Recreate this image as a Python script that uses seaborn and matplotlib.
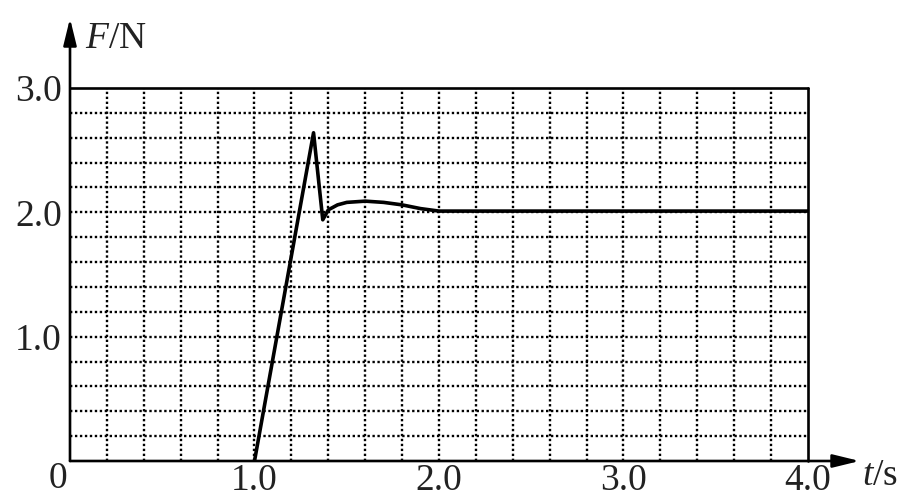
import matplotlib
matplotlib.use("Agg")
import matplotlib.pyplot as plt
import seaborn as sns
import numpy as np
import pandas as pd

# data
t_values = [1.0, 1.32, 1.37, 1.40, 1.45, 1.5, 1.6, 1.7, 1.8, 1.9, 2.0, 4.0]
F_values = [0.0, 2.64, 1.94, 2.02, 2.06, 2.08, 2.09, 2.08, 2.06, 2.03, 2.01, 2.01]
x_tick_values = [1.0, 2.0, 3.0, 4.0]
x_tick_labels = ["1.0", "2.0", "3.0", "4.0"]
y_tick_values = [1.0, 2.0, 3.0]
y_tick_labels = ["1.0", "2.0", "3.0"]

sns.set_theme(style="white")
plt.rcParams['font.family'] = ['Liberation Serif', 'DejaVu Serif']
plt.rcParams['mathtext.fontset'] = 'custom'
plt.rcParams['mathtext.rm'] = 'Liberation Serif'
plt.rcParams['mathtext.it'] = 'Liberation Serif:italic'

fig = plt.figure(figsize=(9.04, 4.97), dpi=100)
ax = fig.add_axes([70 / 904, 36 / 497, 738 / 904, 373 / 497])
ax.set_facecolor("white")

df = pd.DataFrame({"t": t_values, "F": F_values})

# dotted grid every 0.2
grid_x = np.arange(1, 20) * 0.2
grid_y = np.arange(1, 15) * 0.2
for gx in grid_x:
    ax.axvline(gx, color="black", lw=1.7, ls=(0, (1, 1.1)), zorder=1)
for gy in grid_y:
    ax.axhline(gy, color="black", lw=1.7, ls=(0, (1, 1.1)), zorder=1)

sns.lineplot(data=df, x="t", y="F", color="black", lw=2.6, ax=ax, zorder=5, sort=False)

ax.set_xlim(0, 4)
ax.set_ylim(0, 3)

for s in ["top", "right", "left", "bottom"]:
    ax.spines[s].set_visible(False)
ax.plot([0, 4], [3, 3], color="black", lw=1.9, zorder=4, clip_on=False)
ax.plot([4, 4], [0, 3], color="black", lw=1.9, zorder=4, clip_on=False)

arrow = dict(arrowstyle="-|>,head_length=0.9,head_width=0.22", lw=1.9,
             color="black", mutation_scale=18, shrinkA=0, shrinkB=0)
ax.annotate("", xy=(0, 3.56), xytext=(0, 0), arrowprops=arrow,
            annotation_clip=False, zorder=6)
ax.annotate("", xy=(4.28, 0), xytext=(0, 0), arrowprops=arrow,
            annotation_clip=False, zorder=6)

ax.set_xticks(x_tick_values)
ax.set_xticklabels(x_tick_labels, fontsize=27)
ax.set_yticks(y_tick_values)
ax.set_yticklabels(y_tick_labels, fontsize=27)
ax.tick_params(axis="both", length=0, colors="#222222")
ax.tick_params(axis="x", pad=2)
ax.tick_params(axis="y", pad=6)
ax.set_xlabel("")
ax.set_ylabel("")

ax.text(-0.065, -0.14, "0", fontsize=27, ha="center", va="center", color="#222222",
        clip_on=False)
ax.text(0.08, 3.40, "$F$/N", fontsize=27, ha="left", va="center", color="#222222",
        clip_on=False)
ax.text(4.49, -0.12, "$t$/s", fontsize=27, ha="right", va="center", color="#222222",
        clip_on=False)

fig.savefig("out.png", dpi=100, facecolor="white")
